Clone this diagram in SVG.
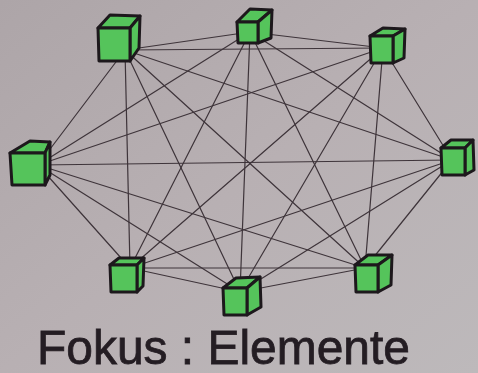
<svg xmlns="http://www.w3.org/2000/svg" width="478" height="373" viewBox="0 0 478 373">
<defs>
<linearGradient id="bg" x1="0" y1="0" x2="1" y2="1">
<stop offset="0" stop-color="#ada5a8"/>
<stop offset="0.5" stop-color="#b8b0b3"/>
<stop offset="1" stop-color="#bdb9bb"/>
</linearGradient>
<style>
.edge{stroke:#3e343a;stroke-width:1.2;fill:none;stroke-linecap:round}
.cube path{fill:#55c45b;stroke:#1d181c;stroke-width:3;stroke-linejoin:round;stroke-linecap:round}
.label{font-family:"Liberation Sans","DejaVu Sans",sans-serif;font-size:49px;fill:#241d23;stroke:#241d23;stroke-width:0.8}
</style>
</defs>
<rect width="478" height="373" fill="url(#bg)"/>
<g id="connectors">
<line class="edge" x1="125" y1="50" x2="250" y2="32"/>
<line class="edge" x1="125" y1="50" x2="383" y2="48"/>
<line class="edge" x1="125" y1="50" x2="38" y2="165"/>
<line class="edge" x1="125" y1="50" x2="452" y2="160"/>
<line class="edge" x1="125" y1="50" x2="130" y2="268"/>
<line class="edge" x1="125" y1="50" x2="240" y2="292"/>
<line class="edge" x1="125" y1="50" x2="365" y2="268"/>
<line class="edge" x1="250" y1="32" x2="383" y2="48"/>
<line class="edge" x1="250" y1="32" x2="38" y2="165"/>
<line class="edge" x1="250" y1="32" x2="452" y2="160"/>
<line class="edge" x1="250" y1="32" x2="130" y2="268"/>
<line class="edge" x1="250" y1="32" x2="240" y2="292"/>
<line class="edge" x1="250" y1="32" x2="365" y2="268"/>
<line class="edge" x1="383" y1="48" x2="38" y2="165"/>
<line class="edge" x1="383" y1="48" x2="452" y2="160"/>
<line class="edge" x1="383" y1="48" x2="130" y2="268"/>
<line class="edge" x1="383" y1="48" x2="240" y2="292"/>
<line class="edge" x1="383" y1="48" x2="365" y2="268"/>
<line class="edge" x1="38" y1="165" x2="452" y2="160"/>
<line class="edge" x1="38" y1="165" x2="130" y2="268"/>
<line class="edge" x1="38" y1="165" x2="240" y2="292"/>
<line class="edge" x1="38" y1="165" x2="365" y2="268"/>
<line class="edge" x1="452" y1="160" x2="130" y2="268"/>
<line class="edge" x1="452" y1="160" x2="240" y2="292"/>
<line class="edge" x1="452" y1="160" x2="365" y2="268"/>
<line class="edge" x1="130" y1="268" x2="240" y2="292"/>
<line class="edge" x1="130" y1="268" x2="365" y2="268"/>
<line class="edge" x1="240" y1="292" x2="365" y2="268"/>
</g>
<g id="cube1" class="cube">
<path d="M110 15 L140 16 L130 28 L98 28 Z"/>
<path d="M130 28 L140 16 L139 48 L130 61 Z"/>
<path d="M98 28 H130 V61 H99 Z"/>
</g>
<g id="cube2" class="cube">
<path d="M250 9 L272 10 L258 22 L237 22 Z"/>
<path d="M258 22 L272 10 L271 38 L258 43 Z"/>
<path d="M237 22 H258 V43 H238 Z"/>
</g>
<g id="cube3" class="cube">
<path d="M383 28 L405 29 L393 36 L370 36 Z"/>
<path d="M393 36 L405 29 L404 58 L393 63 Z"/>
<path d="M370 36 H393 V63 H371 Z"/>
</g>
<g id="cube4" class="cube">
<path d="M30 141 L50 142 L45 153 L10 153 Z"/>
<path d="M45 153 L50 142 L50 175 L45 185 Z"/>
<path d="M10 153 H45 V185 H12 Z"/>
</g>
<g id="cube5" class="cube">
<path d="M451 140 L473 140 L465 148 L441 148 Z"/>
<path d="M465 148 L473 140 L474 170 L465 175 Z"/>
<path d="M441 148 H465 V175 H442 Z"/>
</g>
<g id="cube6" class="cube">
<path d="M119 258 L144 258 L137 265 L110 265 Z"/>
<path d="M137 265 L144 258 L143 286 L137 292 Z"/>
<path d="M110 265 H137 V292 H111 Z"/>
</g>
<g id="cube7" class="cube">
<path d="M236 278 L260 277 L247 288 L223 288 Z"/>
<path d="M247 288 L260 277 L261 307 L247 315 Z"/>
<path d="M223 288 H247 V315 H224 Z"/>
</g>
<g id="cube8" class="cube">
<path d="M368 255 L392 255 L378 265 L355 265 Z"/>
<path d="M378 265 L392 255 L391 285 L378 292 Z"/>
<path d="M355 265 H378 V292 H356 Z"/>
</g>
<text class="label" x="37" y="364" textLength="373" lengthAdjust="spacingAndGlyphs">Fokus : Elemente</text>
</svg>
